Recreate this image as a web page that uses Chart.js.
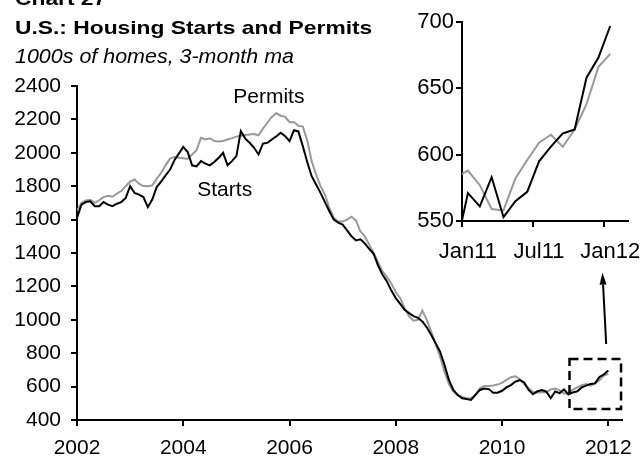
<!DOCTYPE html>
<html>
<head>
<meta charset="utf-8">
<script src="https://cdn.jsdelivr.net/npm/chart.js@4.4.1/dist/chart.umd.min.js"></script>
<style>
  body { margin: 0; background: #fff; }
  #wrap { position: relative; width: 642px; height: 457px; overflow: hidden; font-family: "Liberation Sans", Arial, sans-serif; color: #000; }
  .t { position: absolute; left: 15px; white-space: nowrap; line-height: 1; transform-origin: 0 0; }
  #chart27 { top: -11px; font-weight: bold; font-size: 19px; transform: scaleX(1.2); }
  #title { top: 18px; font-weight: bold; font-size: 19px; transform: scaleX(1.2); }
  #sub { top: 47px; font-style: italic; font-size: 19.5px; transform: scaleX(1.1); }
  canvas { position: absolute; }
  #main { left: 0; top: 0; }
  #inset { left: 395px; top: 0; }
</style>
</head>
<body>
<div id="wrap">
  <canvas id="main" width="642" height="457"></canvas>
  <canvas id="inset" width="247" height="270"></canvas>
  <div class="t" id="chart27">Chart 27</div>
  <div class="t" id="title">U.S.: Housing Starts and Permits</div>
  <div class="t" id="sub">1000s of homes, 3-month ma</div>
</div>
<script>
// monthly, Jan 2002 .. Jan 2012 (1000s, 3-month ma)
const startYear = 2002;
const starts = [
  1610, 1690, 1705, 1710, 1680, 1680, 1705, 1690, 1680, 1695, 1705, 1730,
  1800, 1760, 1750, 1735, 1675, 1720, 1795, 1827, 1865, 1898, 1955, 1995,
  2035, 2005, 1925, 1918, 1950, 1935, 1925, 1945, 1970, 2000, 1925, 1950,
  1980, 2130, 2085, 2060, 2030, 1990, 2055, 2060, 2080, 2098, 2120, 2100,
  2070, 2135, 2128, 2040, 1945, 1860, 1810, 1760, 1705, 1650, 1600, 1582,
  1570, 1535, 1500, 1475, 1482, 1458, 1425, 1395, 1325, 1270, 1230, 1175,
  1130, 1095, 1060, 1040, 1022, 1012, 990, 955, 909, 860, 810, 730,
  640, 580, 549, 530, 525, 520, 550, 580, 589, 585, 563, 563,
  575, 595, 609, 629, 639, 625, 580, 555, 572, 579, 570, 530,
  571, 561, 583, 553, 565, 572, 595, 606, 616, 619, 658, 673,
  697
];
const permits = [
  1655, 1700, 1715, 1718, 1700, 1715, 1735, 1742, 1737, 1755, 1771, 1800,
  1827, 1840, 1815, 1801, 1800, 1805, 1845, 1880, 1925, 1965, 1975, 1970,
  1968, 1963, 1990, 2015, 2090, 2080, 2087, 2070, 2067, 2070, 2080, 2088,
  2097, 2102, 2107, 2110, 2113, 2105, 2145, 2180, 2215, 2237, 2222, 2215,
  2183, 2185, 2162, 2157, 2075, 1950, 1870, 1800, 1750, 1670, 1610, 1588,
  1588, 1600, 1617, 1595, 1530, 1500, 1450, 1400, 1345, 1290, 1255, 1218,
  1165, 1130, 1070, 1020, 995, 1000, 1055, 1000, 930, 855, 780, 690,
  615, 570, 549, 538, 532, 530, 552, 590, 603, 603, 606, 612,
  622, 640, 656, 662, 645, 615, 590, 567, 563, 568, 565, 583,
  588, 577, 559, 558, 582, 596, 609, 615, 606, 619, 638, 666,
  676
];

// inset: Dec10 .. Jan12 (same series), axis runs Jan11 .. Feb12
const insetMonths = ['Dec10', 'Jan11', 'Feb11', 'Mar11', 'Apr11', 'May11', 'Jun11',
  'Jul11', 'Aug11', 'Sep11', 'Oct11', 'Nov11', 'Dec11', 'Jan12', 'Feb12'];
const insetTickLabels = ['Jan11', 'Jul11', 'Jan12'];
const insetFrom = 107; // index of Dec10 in the monthly arrays
const insetStarts = starts.slice(insetFrom);
const insetPermits = permits.slice(insetFrom);

const seriesLabels = [
  { text: 'Permits', x: 2005.61, y: 2330 },
  { text: 'Starts', x: 2004.78, y: 1775 }
];
const zoomBox = { x0: 2011.27, x1: 2012.24, y0: 466, y1: 765 };
const arrow = { x0: 2011.96, y0: 855, x1: 2011.89, y1: 1282 };

const FONT = '"Liberation Sans", Arial, sans-serif';
Chart.defaults.font.family = FONT;
Chart.defaults.color = '#000';
Chart.defaults.animation = false;

const toXY = arr => arr.map((v, i) => ({ x: startYear + i / 12, y: v }));

const annot = {
  id: 'annot',
  afterDraw(chart) {
    const { ctx, scales: { x, y } } = chart;
    ctx.save();
    ctx.fillStyle = '#000';
    ctx.font = '21px ' + FONT;
    ctx.textAlign = 'center';
    ctx.textBaseline = 'middle';
    seriesLabels.forEach(l => ctx.fillText(l.text, x.getPixelForValue(l.x), y.getPixelForValue(l.y)));

    const bx0 = x.getPixelForValue(zoomBox.x0), bx1 = x.getPixelForValue(zoomBox.x1);
    const by0 = y.getPixelForValue(zoomBox.y0), by1 = y.getPixelForValue(zoomBox.y1);
    ctx.strokeStyle = '#000';
    ctx.lineWidth = 2.5;
    ctx.setLineDash([9, 5]);
    ctx.strokeRect(bx0, by1, bx1 - bx0, by0 - by1);
    ctx.setLineDash([]);

    const ax0 = x.getPixelForValue(arrow.x0), ay0 = y.getPixelForValue(arrow.y0);
    const ax1 = x.getPixelForValue(arrow.x1), ay1 = y.getPixelForValue(arrow.y1);
    const ang = Math.atan2(ay1 - ay0, ax1 - ax0);
    const hl = 12, hw = 3.5;
    const bxh = ax1 - hl * Math.cos(ang), byh = ay1 - hl * Math.sin(ang);
    ctx.lineWidth = 2;
    ctx.beginPath();
    ctx.moveTo(ax0, ay0);
    ctx.lineTo(bxh, byh);
    ctx.stroke();
    ctx.beginPath();
    ctx.moveTo(ax1, ay1);
    ctx.lineTo(bxh + hw * Math.sin(ang), byh - hw * Math.cos(ang));
    ctx.lineTo(bxh - hw * Math.sin(ang), byh + hw * Math.cos(ang));
    ctx.closePath();
    ctx.fill();
    ctx.restore();
  }
};

const axisBorder = { display: true, color: '#000', width: 2 };

new Chart(document.getElementById('main'), {
  type: 'line',
  data: {
    datasets: [
      { label: 'Starts', data: toXY(starts), borderColor: '#000', borderWidth: 2, pointRadius: 0, tension: 0 },
      { label: 'Permits', data: toXY(permits), borderColor: '#999', borderWidth: 2, pointRadius: 0, tension: 0 }
    ]
  },
  options: {
    responsive: false,
    layout: { padding: { left: 0, right: 14, top: 86, bottom: 0 } },
    plugins: { legend: { display: false }, tooltip: { enabled: false } },
    scales: {
      x: {
        type: 'linear', min: 2002, max: 2012.25,
        afterFit: s => { s.height = 37; },
        border: axisBorder,
        grid: { drawOnChartArea: false, tickLength: 6, color: '#000', lineWidth: 2 },
        ticks: { stepSize: 2, includeBounds: false, padding: 10, font: { size: 21 }, maxRotation: 0, autoSkip: false,
          callback: v => String(v) }
      },
      y: {
        min: 400, max: 2400,
        afterFit: s => { s.width = 77; },
        border: axisBorder,
        grid: { drawOnChartArea: false, tickLength: 6, color: '#000', lineWidth: 2 },
        ticks: { stepSize: 200, padding: 10, font: { size: 21 }, callback: v => String(v) }
      }
    }
  },
  plugins: [annot]
});

const showTick = ctx => ctx.tick && insetTickLabels.includes(insetMonths[ctx.tick.value]);

new Chart(document.getElementById('inset'), {
  type: 'line',
  data: {
    labels: insetMonths,
    datasets: [
      { label: 'Starts', data: insetStarts, borderColor: '#000', borderWidth: 2, pointRadius: 0, tension: 0, clip: 0 },
      { label: 'Permits', data: insetPermits, borderColor: '#999', borderWidth: 2, pointRadius: 0, tension: 0, clip: 0 }
    ]
  },
  options: {
    responsive: false,
    layout: { padding: { left: 0, right: 14, top: 22, bottom: 0 } },
    plugins: { legend: { display: false }, tooltip: { enabled: false } },
    scales: {
      x: {
        type: 'category', min: 'Jan11', max: 'Feb12', offset: true,
        afterFit: s => { s.height = 49; },
        border: axisBorder,
        grid: { offset: true, drawOnChartArea: false, tickLength: 6, lineWidth: 2,
          color: ctx => showTick(ctx) ? '#000' : 'rgba(0,0,0,0)' },
        ticks: { padding: 12, font: { size: 22 }, maxRotation: 0, autoSkip: false,
          callback: function (v) { const l = this.getLabelForValue(v); return insetTickLabels.includes(l) ? l : ''; } }
      },
      y: {
        min: 550, max: 700,
        afterFit: s => { s.width = 67; },
        border: axisBorder,
        grid: { drawOnChartArea: false, tickLength: 6, color: '#000', lineWidth: 2 },
        ticks: { stepSize: 50, padding: 2, font: { size: 22 } }
      }
    }
  }
});
</script>
</body>
</html>
